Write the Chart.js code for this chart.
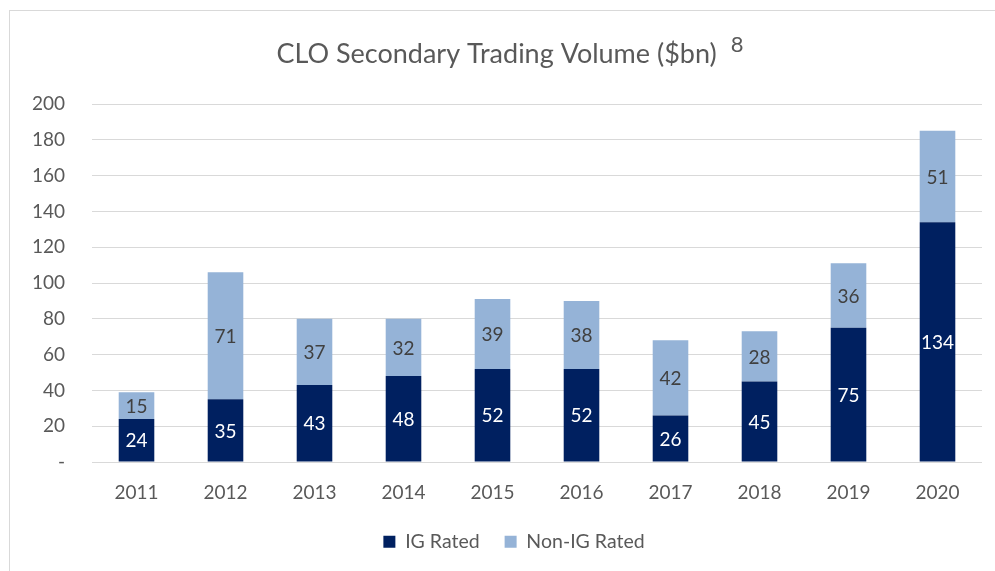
<!DOCTYPE html>
<html>
<head>
<meta charset="utf-8">
<script src="https://cdn.jsdelivr.net/npm/chart.js@4.4.1/dist/chart.umd.min.js"></script>
<style>
  html, body { margin: 0; padding: 0; background: #fff; }
  #wrap { position: relative; width: 995px; height: 571px; overflow: hidden; }
  #frame { position: absolute; left: 9px; top: 10px; width: 1000px; height: 600px;
           border-left: 1px solid #d9d9d9; border-top: 1px solid #d9d9d9; box-sizing: border-box; }
  canvas { position: absolute; left: 0; top: 0; }
</style>
</head>
<body>
<div id="wrap">
  <div id="frame"></div>
  <canvas id="c" width="995" height="571"></canvas>
</div>
<script>
const categories = ['2011','2012','2013','2014','2015','2016','2017','2018','2019','2020'];
const igRated    = [24, 35, 43, 48, 52, 52, 26, 45, 75, 134];
const nonIgRated = [15, 71, 37, 32, 39, 38, 42, 28, 36, 51];
const titleText = 'CLO Secondary Trading Volume ($bn)';
const titleNote = '8';

const FONT = 'Lato, "Open Sans", sans-serif';
const GREY = '#595959';

const titlePlugin = {
  id: 'customTitle',
  afterDraw(chart) {
    const ctx = chart.ctx;
    ctx.save();
    ctx.fillStyle = GREY;
    ctx.textBaseline = 'alphabetic';
    ctx.textAlign = 'left';
    ctx.font = '27px ' + FONT;
    const w1 = ctx.measureText(titleText).width;
    ctx.font = '22px ' + FONT;
    const w2 = ctx.measureText(titleNote).width;
    const gap = 14;
    const x0 = 510 - (w1 + gap + w2) / 2;
    ctx.font = '27px ' + FONT;
    ctx.fillText(titleText, x0, 63);
    ctx.font = '22px ' + FONT;
    ctx.fillText(titleNote, x0 + w1 + gap, 52);
    ctx.restore();
  }
};

const labelPlugin = {
  id: 'barLabels',
  afterDatasetsDraw(chart) {
    const ctx = chart.ctx;
    ctx.save();
    ctx.font = '19px ' + FONT;
    ctx.textAlign = 'center';
    ctx.textBaseline = 'middle';
    chart.data.datasets.forEach((ds, i) => {
      const meta = chart.getDatasetMeta(i);
      ctx.fillStyle = i === 0 ? '#ffffff' : '#404040';
      meta.data.forEach((bar, j) => {
        const v = ds.data[j];
        ctx.fillText(String(v), bar.x, (bar.y + bar.base) / 2 + 1);
      });
    });
    ctx.restore();
  }
};

const legendFitPlugin = {
  id: 'legendFit',
  afterInit(chart) {
    const lg = chart.legend;
    if (lg && !lg._wrapped) {
      const orig = lg.fit;
      lg.fit = function () { orig.call(this); this.height = 64; };
      lg._wrapped = true;
    }
  },
  afterLayout(chart) {
    const lg = chart.legend;
    if (lg) { lg.left += 23; lg.right += 23; }
  }
};

new Chart(document.getElementById('c'), {
  type: 'bar',
  data: {
    labels: categories,
    datasets: [
      { label: 'IG Rated', data: igRated, backgroundColor: '#002060', borderWidth: 0 },
      { label: 'Non-IG Rated', data: nonIgRated, backgroundColor: '#95B3D7', borderWidth: 0 }
    ]
  },
  options: {
    responsive: false,
    animation: false,
    devicePixelRatio: 1,
    datasets: { bar: { barPercentage: 0.8, categoryPercentage: 0.5 } },
    layout: { padding: { top: 104, right: 13, left: 0, bottom: 0 } },
    scales: {
      x: {
        stacked: true,
        afterFit(scale) { scale.height = 45; },
        grid: { display: false },
        border: { display: false },
        ticks: { color: GREY, font: { family: FONT, size: 19 }, padding: 11 }
      },
      y: {
        stacked: true,
        min: 0, max: 200,
        afterFit(scale) { scale.width = 92; },
        grid: { color: '#d9d9d9', lineWidth: 1, drawTicks: false },
        border: { display: false },
        ticks: {
          stepSize: 20,
          color: GREY,
          font: { family: FONT, size: 19 },
          padding: 27,
          callback: (v) => v === 0 ? '-' : v
        }
      }
    },
    plugins: {
      title: { display: false },
      tooltip: { enabled: false },
      legend: {
        position: 'bottom',
        labels: {
          color: GREY,
          font: { family: FONT, size: 19.5 },
          boxWidth: 12, boxHeight: 12,
          padding: 25
        }
      }
    }
  },
  plugins: [titlePlugin, labelPlugin, legendFitPlugin]
});
</script>
</body>
</html>
